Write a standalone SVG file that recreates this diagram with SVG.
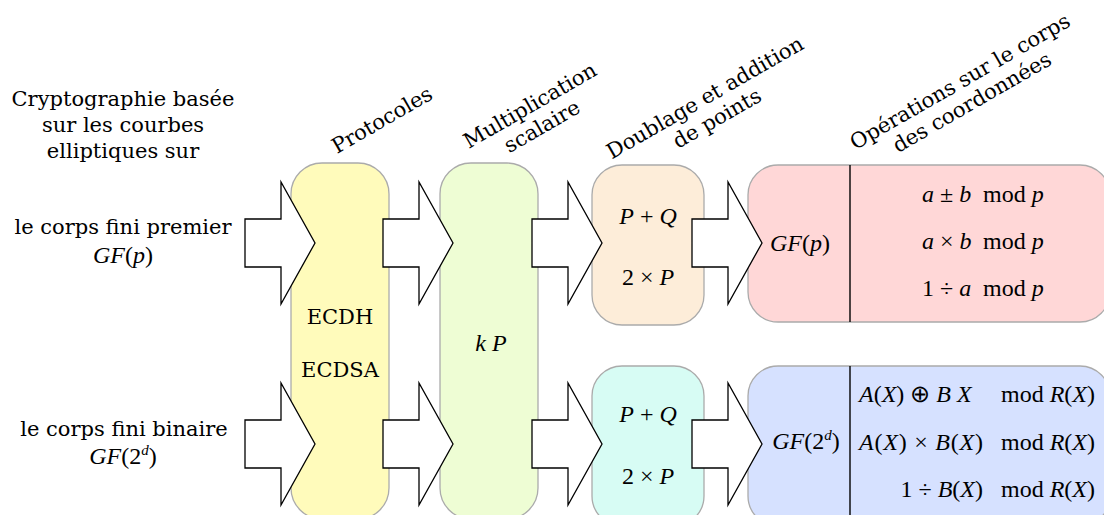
<svg xmlns="http://www.w3.org/2000/svg" width="1104" height="515" viewBox="0 0 1104 515">
<style>
.t{font-family:"DejaVu Serif",serif;font-size:21px;fill:#000}
.m{font-family:"Liberation Serif","Times New Roman",serif;font-size:24px;fill:#000}
.i{font-style:italic}
.box{stroke:#ababab;stroke-width:1.3}
.arr{fill:#fff;stroke:#000;stroke-width:1.3;stroke-linejoin:miter}
.div{stroke:#000;stroke-width:1.4}
</style>
<defs>
<polygon id="arrow" points="0,-24 36,-24 36,-61 70,0 36,61 36,24 0,24"/>
</defs>
<rect width="1104" height="515" fill="#fff"/>

<g id="title">
<text class="t" text-anchor="middle" x="123" y="106">Cryptographie basée</text>
<text class="t" text-anchor="middle" x="123" y="132">sur les courbes</text>
<text class="t" text-anchor="middle" x="123" y="158">elliptiques sur</text>
</g>
<g id="field-prime">
<text class="t" text-anchor="middle" x="123" y="234">le corps fini premier</text>
<text class="m" text-anchor="middle" x="123" y="263"><tspan class="i">GF</tspan>(<tspan class="i">p</tspan>)</text>
</g>
<g id="field-binary">
<text class="t" text-anchor="middle" x="124" y="436">le corps fini binaire</text>
<text class="m" text-anchor="middle" x="123" y="464"><tspan class="i">GF</tspan>(2<tspan class="i" font-size="15" dy="-9">d</tspan><tspan dy="9">)</tspan></text>
</g>

<g id="protocols">
<rect class="box" x="291" y="163" width="98" height="356" rx="31" fill="#fffbbb"/>
<text class="t" text-anchor="middle" x="340" y="324">ECDH</text>
<text class="t" text-anchor="middle" x="340" y="377">ECDSA</text>
<text class="t" text-anchor="middle" transform="translate(382,120) rotate(-30)" y="7">Protocoles</text>
</g>
<g id="scalar">
<rect class="box" x="440" y="163" width="98" height="356" rx="31" fill="#eefdd4"/>
<text class="m" text-anchor="middle" x="491" y="351"><tspan class="i">k</tspan>&#160;<tspan class="i">P</tspan></text>
<g transform="translate(536,116) rotate(-30)">
<text class="t" text-anchor="middle" y="-5">Multiplication</text>
<text class="t" text-anchor="middle" y="19">scalaire</text>
</g>
</g>
<g id="point-prime">
<rect class="box" x="592" y="165" width="112" height="160" rx="30" fill="#fdedd9"/>
<text class="m" text-anchor="middle" x="648" y="224"><tspan class="i">P</tspan> + <tspan class="i">Q</tspan></text>
<text class="m" text-anchor="middle" x="648" y="285">2 × <tspan class="i">P</tspan></text>
</g>
<g id="point-binary">
<rect class="box" x="592" y="366" width="112" height="160" rx="30" fill="#d7fcf4"/>
<text class="m" text-anchor="middle" x="648" y="422"><tspan class="i">P</tspan> + <tspan class="i">Q</tspan></text>
<text class="m" text-anchor="middle" x="648" y="484">2 × <tspan class="i">P</tspan></text>
</g>
<g id="point-header" transform="translate(711,108) rotate(-30)">
<text class="t" text-anchor="middle" y="-5">Doublage et addition</text>
<text class="t" text-anchor="middle" y="19">de points</text>
</g>
<g id="ops-prime">
<rect class="box" x="748" y="165" width="362" height="157" rx="30" fill="#ffd7d7"/>
<line class="div" x1="850" y1="165" x2="850" y2="322"/>
<text class="m" text-anchor="middle" x="800" y="251"><tspan class="i">GF</tspan>(<tspan class="i">p</tspan>)</text>
<text class="m" x="922" y="202"><tspan class="i">a</tspan> ± <tspan class="i">b</tspan><tspan x="983">mod </tspan><tspan class="i">p</tspan></text>
<text class="m" x="922" y="249"><tspan class="i">a</tspan> × <tspan class="i">b</tspan><tspan x="983">mod </tspan><tspan class="i">p</tspan></text>
<text class="m" x="922" y="296">1 ÷ <tspan class="i">a</tspan><tspan x="983">mod </tspan><tspan class="i">p</tspan></text>
</g>
<g id="ops-binary">
<rect class="box" x="748" y="366" width="362" height="160" rx="30" fill="#d6e1ff"/>
<line class="div" x1="850" y1="366" x2="850" y2="515"/>
<text class="m" text-anchor="middle" x="806" y="449"><tspan class="i">GF</tspan>(2<tspan class="i" font-size="15" dy="-9">d</tspan><tspan dy="9">)</tspan></text>
<text class="m" x="859" y="402"><tspan class="i">A</tspan>(<tspan class="i">X</tspan>) ⊕ <tspan class="i">B</tspan> <tspan class="i">X</tspan></text>
<text class="m" x="859" y="450" textLength="124" lengthAdjust="spacing"><tspan class="i">A</tspan>(<tspan class="i">X</tspan>) × <tspan class="i">B</tspan>(<tspan class="i">X</tspan>)</text>
<text class="m" text-anchor="end" x="983" y="497">1 ÷ <tspan class="i">B</tspan>(<tspan class="i">X</tspan>)</text>
<text class="m" text-anchor="end" x="1095" y="402">mod <tspan class="i">R</tspan>(<tspan class="i">X</tspan>)</text>
<text class="m" text-anchor="end" x="1095" y="450">mod <tspan class="i">R</tspan>(<tspan class="i">X</tspan>)</text>
<text class="m" text-anchor="end" x="1095" y="497">mod <tspan class="i">R</tspan>(<tspan class="i">X</tspan>)</text>
</g>
<g id="ops-header" transform="translate(966,92) rotate(-30)">
<text class="t" text-anchor="middle" y="-5">Opérations sur le corps</text>
<text class="t" text-anchor="middle" y="19">des coordonnées</text>
</g>

<g id="connectors">
<use href="#arrow" class="arr" x="245" y="243"/>
<use href="#arrow" class="arr" x="383" y="243"/>
<use href="#arrow" class="arr" x="532" y="243"/>
<use href="#arrow" class="arr" x="692" y="243"/>
<use href="#arrow" class="arr" x="245" y="444"/>
<use href="#arrow" class="arr" x="383" y="444"/>
<use href="#arrow" class="arr" x="532" y="444"/>
<use href="#arrow" class="arr" x="692" y="444"/>
</g>
</svg>
